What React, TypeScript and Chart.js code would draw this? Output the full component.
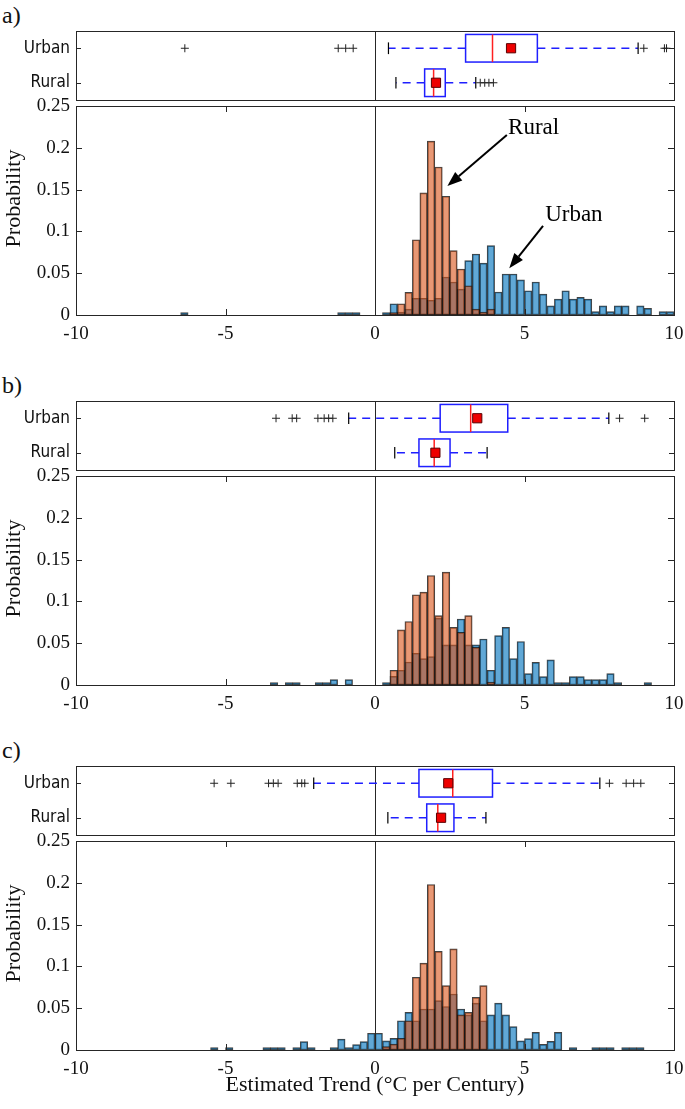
import React, { useEffect, useRef } from 'react';
import { Chart, registerables } from 'chart.js';

Chart.register(...registerables);

// ---------------- data ----------------
const BIN_WIDTH = 0.25;
const X_TICKS = [-10, -5, 0, 5, 10];
const Y_TICKS = [0, 0.05, 0.1, 0.15, 0.2, 0.25];
const ROWS = ['Urban', 'Rural'];
const REFERENCE_X = 0;
const PANEL_LABELS = ['a)', 'b)', 'c)'];
const X_TITLE = 'Estimated Trend (°C per Century)';
const Y_TITLE = 'Probability';

// Panel a histograms (bin left edges, probabilities)
const urbanBinsA = [-6.5, -1.25, -1.0, -0.75, 0.25, 0.5, 0.75, 1.0, 1.25, 1.5, 1.75, 2.0, 2.25, 2.5, 2.75, 3.0, 3.25, 3.5, 3.75, 4.0, 4.25, 4.5, 4.75, 5.0, 5.25, 5.5, 5.75, 6.0, 6.25, 6.5, 6.75, 7.0, 7.25, 7.5, 7.75, 8.0, 8.25, 8.75, 9.0, 9.5, 9.75];
const urbanProbA = [0.003, 0.003, 0.003, 0.003, 0.003, 0.0135, 0.0035, 0.007, 0.02, 0.02, 0.0176, 0.02, 0.0455, 0.0395, 0.031, 0.065, 0.073, 0.062, 0.083, 0.0275, 0.049, 0.049, 0.042, 0.029, 0.0395, 0.025, 0.011, 0.019, 0.029, 0.019, 0.021, 0.019, 0.004, 0.011, 0.004, 0.011, 0.011, 0.011, 0.008, 0.004, 0.004];
const ruralBinsA = [0.5, 0.75, 1.0, 1.25, 1.5, 1.75, 2.0, 2.25, 2.5, 2.75, 3.0, 3.25, 3.5, 3.75];
const ruralProbA = [0.003, 0.0135, 0.027, 0.09, 0.146, 0.208, 0.177, 0.142, 0.077, 0.055, 0.035, 0.007, 0.0036, 0.007];

// Panel b histograms
const urbanBinsB = [-3.5, -3.0, -2.75, -2.0, -1.75, -1.5, -1.0, 0.25, 0.5, 0.75, 1.0, 1.25, 1.5, 1.75, 2.0, 2.25, 2.5, 2.75, 3.0, 3.25, 3.5, 3.75, 4.0, 4.25, 4.5, 4.75, 5.0, 5.25, 5.5, 5.75, 6.0, 6.25, 6.5, 6.75, 7.0, 7.25, 7.5, 7.75, 8.0, 9.0];
const urbanProbB = [0.003, 0.003, 0.003, 0.003, 0.003, 0.0064, 0.0064, 0.003, 0.0104, 0.0176, 0.0275, 0.038, 0.0315, 0.034, 0.08, 0.048, 0.048, 0.079, 0.048, 0.048, 0.055, 0.0176, 0.059, 0.069, 0.0315, 0.052, 0.0136, 0.027, 0.01, 0.03, 0.003, 0.003, 0.01, 0.01, 0.0064, 0.0064, 0.0064, 0.0136, 0.003, 0.003];
const ruralBinsB = [0.5, 0.75, 1.0, 1.25, 1.5, 1.75, 2.0, 2.25, 2.5, 2.75, 3.0, 3.25, 3.75];
const ruralProbB = [0.0176, 0.066, 0.076, 0.108, 0.111, 0.131, 0.083, 0.135, 0.069, 0.063, 0.083, 0.045, 0.0036];

// Panel c histograms
const urbanBinsC = [-5.5, -5.0, -3.75, -3.5, -3.25, -2.75, -2.5, -2.25, -1.5, -1.25, -1.0, -0.75, -0.5, -0.25, 0.0, 0.25, 0.5, 0.75, 1.0, 1.25, 1.5, 1.75, 2.0, 2.25, 2.5, 2.75, 3.0, 3.25, 3.5, 3.75, 4.0, 4.25, 4.5, 4.75, 5.0, 5.25, 5.5, 5.75, 6.0, 6.5, 7.25, 7.5, 7.75, 8.25, 8.5, 8.75];
const urbanProbC = [0.003, 0.003, 0.003, 0.003, 0.003, 0.003, 0.01, 0.003, 0.003, 0.013, 0.003, 0.0064, 0.01, 0.02, 0.02, 0.011, 0.014, 0.035, 0.045, 0.035, 0.049, 0.049, 0.059, 0.052, 0.067, 0.049, 0.042, 0.056, 0.035, 0.042, 0.056, 0.042, 0.028, 0.011, 0.0136, 0.021, 0.0068, 0.0104, 0.021, 0.003, 0.003, 0.003, 0.003, 0.003, 0.003, 0.003];
const ruralBinsC = [0.25, 0.5, 0.75, 1.0, 1.25, 1.5, 1.75, 2.0, 2.25, 2.5, 2.75, 3.0, 3.25, 3.5];
const ruralProbC = [0.004, 0.007, 0.014, 0.035, 0.087, 0.104, 0.198, 0.118, 0.077, 0.121, 0.042, 0.045, 0.063, 0.077];

// Box plot statistics: [lower whisker, Q1, median, Q3, upper whisker]
const urbanBoxA = [0.45, 3.03, 3.93, 5.43, 8.8];
const urbanMeanA = 4.55;
const urbanOutA = [-6.36, -1.23, -0.98, -0.73, 8.99, 9.68, 9.75];
const ruralBoxA = [0.7, 1.66, 1.96, 2.35, 3.37];
const ruralMeanA = 2.04;
const ruralOutA = [3.52, 3.67, 3.81, 3.96];

const urbanBoxB = [-0.88, 2.18, 3.2, 4.44, 7.82];
const urbanMeanB = 3.42;
const urbanOutB = [-3.31, -2.77, -2.62, -1.91, -1.7, -1.55, -1.41, 8.18, 9.02];
const ruralBoxB = [0.66, 1.47, 1.98, 2.51, 3.75];
const ruralMeanB = 2.02;
const ruralOutB: number[] = [];

const urbanBoxC = [-2.05, 1.47, 2.6, 3.93, 7.52];
const urbanMeanC = 2.45;
const urbanOutC = [-5.38, -4.82, -3.56, -3.4, -3.24, -2.6, -2.45, -2.35, 7.84, 8.4, 8.65, 8.89];
const ruralBoxC = [0.43, 1.73, 2.1, 2.64, 3.71];
const ruralMeanC = 2.21;
const ruralOutC: number[] = [];

// Annotations (panel a) in data units
const ANNOTATIONS = [
  { text: 'Rural', at: [4.45, 0.2237], from: [4.41, 0.2153], to: [2.42, 0.1543] },
  { text: 'Urban', at: [5.69, 0.1196], from: [5.62, 0.1065], to: [4.49, 0.0559] },
];

const PANELS = [
  { urbanBins: urbanBinsA, urbanProb: urbanProbA, ruralBins: ruralBinsA, ruralProb: ruralProbA, urbanBox: urbanBoxA, urbanMean: urbanMeanA, urbanOut: urbanOutA, ruralBox: ruralBoxA, ruralMean: ruralMeanA, ruralOut: ruralOutA, annotate: true, xTitle: false },
  { urbanBins: urbanBinsB, urbanProb: urbanProbB, ruralBins: ruralBinsB, ruralProb: ruralProbB, urbanBox: urbanBoxB, urbanMean: urbanMeanB, urbanOut: urbanOutB, ruralBox: ruralBoxB, ruralMean: ruralMeanB, ruralOut: ruralOutB, annotate: false, xTitle: false },
  { urbanBins: urbanBinsC, urbanProb: urbanProbC, ruralBins: ruralBinsC, ruralProb: ruralProbC, urbanBox: urbanBoxC, urbanMean: urbanMeanC, urbanOut: urbanOutC, ruralBox: ruralBoxC, ruralMean: ruralMeanC, ruralOut: ruralOutC, annotate: false, xTitle: true },
];

// ---------------- styles / layout ----------------
const W = 685;
const PANEL_OFFSETS = [0, 370, 735];
const SERIF = "'Liberation Serif', 'Times New Roman', serif";
const NARROW = "'DejaVu Sans Condensed', 'Liberation Sans Narrow', 'DejaVu Sans', sans-serif";
const AXIS = '#262626';
const URBAN_FILL = 'rgba(0,114,189,0.62)';
const RURAL_FILL = 'rgba(217,83,25,0.6)';
const EDGE = 'rgba(20,20,20,0.8)';
const BOX_BLUE = '#1f1fff';
const MED_RED = '#ff2020';
const BOX_HALF = 0.4;
const CAP_HALF = 0.17;
const Y_AXIS_W = 76;
const RIGHT_PAD = 11;

Chart.defaults.font.family = SERIF;

const crisp = (v: number) => Math.round(v) + 0.5;

function line(ctx: CanvasRenderingContext2D, x1: number, y1: number, x2: number, y2: number) {
  ctx.beginPath();
  ctx.moveTo(x1, y1);
  ctx.lineTo(x2, y2);
  ctx.stroke();
}

const noHorizontalOverhang = (s: any) => {
  s.paddingLeft = 0;
  s.paddingRight = 0;
};

function BoxChart({ panel, top }: any) {
  const ref = useRef<HTMLCanvasElement>(null);
  useEffect(() => {
    const boxPlugin = {
      id: 'boxes',
      beforeDatasetsDraw(chart: any) {
        const { ctx, chartArea: a, scales } = chart;
        const x = scales.x, y = scales.y;
        ctx.save();
        const x0 = crisp(x.getPixelForValue(REFERENCE_X));
        ctx.strokeStyle = AXIS;
        ctx.lineWidth = 1;
        line(ctx, x0, a.top, x0, a.bottom);
        [panel.urbanBox, panel.ruralBox].forEach((s: number[], i: number) => {
          const row = i + 1;
          const [lo, q1, med, q3, hi] = s.map((v) => x.getPixelForValue(v));
          const yc = y.getPixelForValue(row);
          const yt = y.getPixelForValue(row - BOX_HALF);
          const yb = y.getPixelForValue(row + BOX_HALF);
          const ct = y.getPixelForValue(row - CAP_HALF);
          const cb = y.getPixelForValue(row + CAP_HALF);
          ctx.strokeStyle = BOX_BLUE;
          ctx.lineWidth = 1.5;
          ctx.setLineDash([8, 6]);
          line(ctx, q1, yc, lo, yc);
          line(ctx, q3, yc, hi, yc);
          ctx.setLineDash([]);
          ctx.strokeStyle = '#000';
          ctx.lineWidth = 1.2;
          line(ctx, lo, ct, lo, cb);
          line(ctx, hi, ct, hi, cb);
          ctx.strokeStyle = BOX_BLUE;
          ctx.lineWidth = 1.5;
          ctx.strokeRect(q1, Math.min(yt, yb), q3 - q1, Math.abs(yb - yt));
          ctx.strokeStyle = MED_RED;
          line(ctx, med, Math.min(yt, yb), med, Math.max(yt, yb));
        });
        ctx.restore();
      },
      afterDraw(chart: any) {
        const { ctx, chartArea: a, scales } = chart;
        ctx.save();
        ctx.strokeStyle = AXIS;
        ctx.lineWidth = 1;
        ctx.strokeRect(crisp(a.left), crisp(a.top), Math.round(a.right - a.left), Math.round(a.bottom - a.top));
        ROWS.forEach((_, i) => {
          const yy = crisp(scales.y.getPixelForValue(i + 1));
          line(ctx, a.left, yy, a.left + 5, yy);
          line(ctx, a.right, yy, a.right - 5, yy);
        });
        ctx.restore();
      },
    };

    const outliers = [
      ...panel.urbanOut.map((v: number) => ({ x: v, y: 1 })),
      ...panel.ruralOut.map((v: number) => ({ x: v, y: 2 })),
    ];
    const means = [
      { x: panel.urbanMean, y: 1 },
      { x: panel.ruralMean, y: 2 },
    ];
    const chart = new Chart(ref.current as HTMLCanvasElement, {
      type: 'scatter',
      data: {
        datasets: [
          { data: means, pointStyle: 'rect', radius: 6.5, backgroundColor: '#ee0000', borderColor: '#5a0000', borderWidth: 1 },
          { data: outliers, pointStyle: 'cross', radius: 4, borderColor: '#222', borderWidth: 1, backgroundColor: '#222' },
        ],
      } as any,
      options: {
        animation: false,
        responsive: false,
        devicePixelRatio: 1,
        layout: { autoPadding: false, padding: { left: 0, right: RIGHT_PAD, top: 31, bottom: 10 } },
        plugins: { legend: { display: false }, tooltip: { enabled: false } },
        scales: {
          x: { type: 'linear', min: X_TICKS[0], max: X_TICKS[X_TICKS.length - 1], display: false, afterFit: noHorizontalOverhang },
          y: {
            type: 'linear',
            min: 0.5,
            max: ROWS.length + 0.5,
            reverse: true,
            grid: { display: false, drawTicks: false },
            border: { display: false },
            afterBuildTicks: (s: any) => {
              s.ticks = ROWS.map((_, i) => ({ value: i + 1 }));
            },
            afterFit: (s: any) => {
              s.width = Y_AXIS_W;
              s.paddingTop = 0;
              s.paddingBottom = 0;
            },
            ticks: {
              autoSkip: false,
              padding: 6,
              color: '#111',
              font: { family: NARROW, size: 17 },
              callback: (v: any) => ROWS[Math.round(v) - 1],
            },
          },
        },
      } as any,
      plugins: [boxPlugin],
    });
    return () => chart.destroy();
  }, []);
  return <canvas ref={ref} width={W} height={110} style={{ position: 'absolute', left: 0, top, width: W, height: 110 }} />;
}

function HistChart({ panel, top, height, xAxisH }: any) {
  const ref = useRef<HTMLCanvasElement>(null);
  useEffect(() => {
    const histPlugin = {
      id: 'histFrame',
      afterDraw(chart: any) {
        const { ctx, chartArea: a, scales } = chart;
        const x = scales.x, y = scales.y;
        ctx.save();
        ctx.strokeStyle = AXIS;
        ctx.lineWidth = 1;
        const x0 = crisp(x.getPixelForValue(REFERENCE_X));
        line(ctx, x0, a.top, x0, a.bottom);
        ctx.strokeRect(crisp(a.left), crisp(a.top), Math.round(a.right - a.left), Math.round(a.bottom - a.top));
        X_TICKS.slice(1, -1).forEach((v) => {
          const px = crisp(x.getPixelForValue(v));
          line(ctx, px, a.bottom, px, a.bottom - 6);
          line(ctx, px, a.top, px, a.top + 6);
        });
        Y_TICKS.slice(1, -1).forEach((v) => {
          const py = crisp(y.getPixelForValue(v));
          line(ctx, a.left, py, a.left + 6, py);
          line(ctx, a.right, py, a.right - 6, py);
        });
        // y title
        ctx.fillStyle = '#111';
        ctx.font = `22px ${SERIF}`;
        ctx.textAlign = 'center';
        ctx.textBaseline = 'middle';
        ctx.translate(14, (a.top + a.bottom) / 2 - 12);
        ctx.rotate(-Math.PI / 2);
        ctx.fillText(Y_TITLE, 0, 0);
        ctx.restore();

        if (panel.annotate) {
          ctx.save();
          ctx.fillStyle = '#000';
          ctx.strokeStyle = '#000';
          ctx.font = `23px ${SERIF}`;
          ctx.textAlign = 'left';
          ctx.textBaseline = 'middle';
          ANNOTATIONS.forEach((an) => {
            ctx.fillText(an.text, x.getPixelForValue(an.at[0]), y.getPixelForValue(an.at[1]));
            const x1 = x.getPixelForValue(an.from[0]);
            const y1 = y.getPixelForValue(an.from[1]);
            const x2 = x.getPixelForValue(an.to[0]);
            const y2 = y.getPixelForValue(an.to[1]);
            const ang = Math.atan2(y2 - y1, x2 - x1);
            const hl = 15, hw = 5.5;
            const bx = x2 - hl * Math.cos(ang);
            const by = y2 - hl * Math.sin(ang);
            ctx.lineWidth = 2;
            line(ctx, x1, y1, bx, by);
            ctx.beginPath();
            ctx.moveTo(x2, y2);
            ctx.lineTo(bx + hw * Math.sin(ang), by - hw * Math.cos(ang));
            ctx.lineTo(bx - hw * Math.sin(ang), by + hw * Math.cos(ang));
            ctx.closePath();
            ctx.fill();
          });
          ctx.restore();
        }
      },
    };

    const barStyle = { borderColor: EDGE, borderWidth: 1, borderSkipped: false, grouped: false, barPercentage: 1, categoryPercentage: 1 };
    const chart = new Chart(ref.current as HTMLCanvasElement, {
      type: 'bar',
      data: {
        datasets: [
          {
            label: 'Rural',
            data: panel.ruralBins.map((b: number, i: number) => ({ x: b + BIN_WIDTH / 2, y: panel.ruralProb[i] })),
            backgroundColor: RURAL_FILL,
            ...barStyle,
          },
          {
            label: 'Urban',
            data: panel.urbanBins.map((b: number, i: number) => ({ x: b + BIN_WIDTH / 2, y: panel.urbanProb[i] })),
            backgroundColor: URBAN_FILL,
            ...barStyle,
          },
        ],
      } as any,
      options: {
        animation: false,
        responsive: false,
        devicePixelRatio: 1,
        layout: { autoPadding: false, padding: { left: 0, right: RIGHT_PAD, top: 21, bottom: 0 } },
        plugins: { legend: { display: false }, tooltip: { enabled: false } },
        scales: {
          x: {
            type: 'linear',
            offset: false,
            min: X_TICKS[0],
            max: X_TICKS[X_TICKS.length - 1],
            grid: { display: false, drawTicks: false },
            border: { display: false },
            afterBuildTicks: (s: any) => {
              s.ticks = X_TICKS.map((v) => ({ value: v }));
            },
            afterFit: (s: any) => {
              s.height = xAxisH;
              s.paddingLeft = 0;
              s.paddingRight = 0;
            },
            ticks: {
              autoSkip: false,
              maxRotation: 0,
              padding: 8,
              color: '#111',
              font: { family: SERIF, size: 19 },
              callback: (v: any) => String(v),
            },
            title: {
              display: !!panel.xTitle,
              text: X_TITLE,
              color: '#111',
              font: { family: SERIF, size: 22 },
              padding: { top: 0, bottom: 11 },
            },
          },
          y: {
            type: 'linear',
            min: Y_TICKS[0],
            max: Y_TICKS[Y_TICKS.length - 1],
            grid: { display: false, drawTicks: false },
            border: { display: false },
            afterBuildTicks: (s: any) => {
              s.ticks = Y_TICKS.map((v) => ({ value: v }));
            },
            afterFit: (s: any) => {
              s.width = Y_AXIS_W;
              s.paddingTop = 0;
              s.paddingBottom = 0;
            },
            ticks: {
              autoSkip: false,
              padding: 6,
              color: '#111',
              font: { family: SERIF, size: 19 },
              callback: (v: any) => String(+Number(v).toFixed(2)),
            },
          },
        },
      } as any,
      plugins: [histPlugin],
    });
    return () => chart.destroy();
  }, []);
  return <canvas ref={ref} width={W} height={height} style={{ position: 'absolute', left: 0, top, width: W, height }} />;
}

export default function App() {
  return (
    <div style={{ position: 'absolute', left: 0, top: 0, width: W, height: 1109, background: '#fff', overflow: 'hidden' }}>
      {PANELS.map((p, i) => {
        const oy = PANEL_OFFSETS[i];
        const last = i === PANELS.length - 1;
        const histTop = oy + 85;
        const histH = last ? 1109 - histTop : 260;
        const xAxisH = histH - 21 - 209;
        return (
          <React.Fragment key={i}>
            <div style={{ position: 'absolute', left: 2, top: oy + 3, font: `24px ${SERIF}`, lineHeight: '24px', color: '#111' }}>
              {PANEL_LABELS[i]}
            </div>
            <BoxChart panel={p} top={oy} />
            <HistChart panel={p} top={histTop} height={histH} xAxisH={xAxisH} />
          </React.Fragment>
        );
      })}
    </div>
  );
}
